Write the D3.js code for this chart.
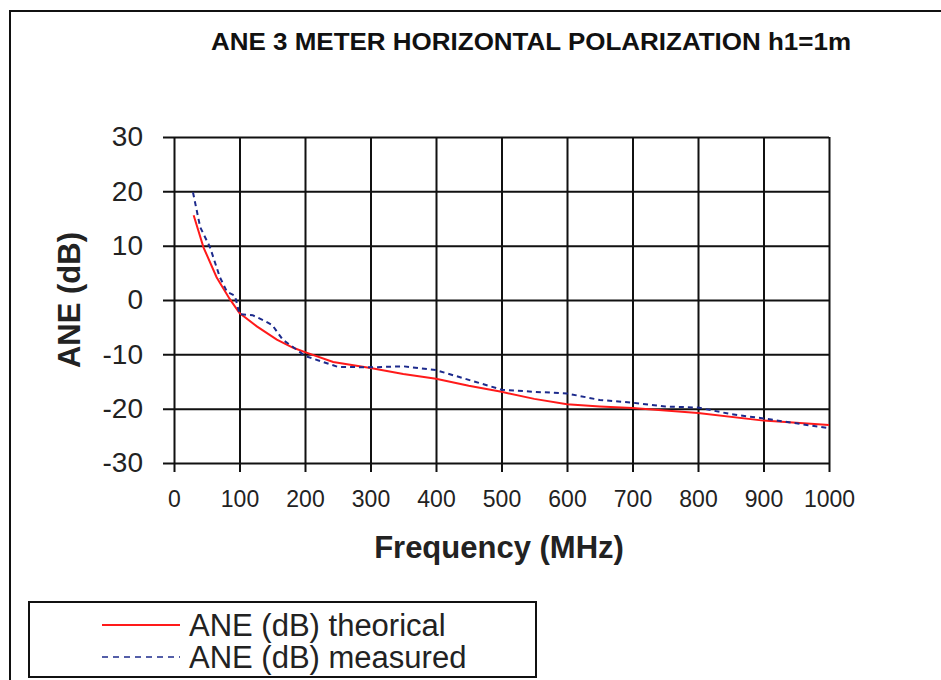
<!DOCTYPE html>
<html>
<head>
<meta charset="utf-8">
<script src="https://cdn.jsdelivr.net/npm/d3@7"></script>
<style>
  body { margin: 0; background: #fff; }
  svg { display: block; }
</style>
</head>
<body>
<div class="chart"></div>
<script>
// Data: frequency (MHz) and ANE (dB)
const theoFreq = [30, 45, 65, 85, 100, 127, 157, 182, 200, 243, 300, 350, 400, 450, 500, 550, 600, 650, 700, 800, 900, 1000];
const theoAne  = [15.6, 9.7, 4.2, 0.2, -2.4, -4.9, -7.3, -8.8, -9.6, -11.4, -12.5, -13.6, -14.5, -15.8, -16.9, -18.2, -19.2, -19.6, -19.9, -20.8, -22.2, -23.0];

const measFreq = [29, 40, 55, 70, 81, 93, 100, 120, 136, 150, 166, 188, 200, 250, 300, 350, 400, 450, 500, 550, 600, 650, 700, 750, 800, 850, 900, 950, 1000];
const measAne  = [19.8, 13.4, 9.7, 4.2, 1.5, 0.8, -2.6, -2.8, -3.7, -4.6, -7.3, -9.2, -10.3, -12.3, -12.4, -12.2, -12.9, -14.7, -16.5, -16.9, -17.2, -18.4, -18.9, -19.6, -19.8, -21.0, -21.8, -22.7, -23.6];

const xTicks = [0, 100, 200, 300, 400, 500, 600, 700, 800, 900, 1000];
const yTicks = [-30, -20, -10, 0, 10, 20, 30];

const series = [
    { name: 'ANE (dB) theorical', freq: theoFreq, ane: theoAne, color: '#ff1a1a', dash: null },
    { name: 'ANE (dB) measured', freq: measFreq, ane: measAne, color: '#1c2a8c', dash: '5,4' }
];

const W = 941, H = 680;
const margin = { top: 137, right: 112, bottom: 217, left: 174 };
const width = W - margin.left - margin.right;
const height = H - margin.top - margin.bottom;

const svg = d3.select('.chart').append('svg')
    .attr('width', W)
    .attr('height', H);

// outer chart frame (runs off the right and bottom edge)
svg.append('path')
    .attr('d', `M10,${H + 5} V11 H${W + 5}`)
    .attr('fill', 'none')
    .attr('stroke', '#111')
    .attr('stroke-width', 2);

svg.append('text')
    .attr('x', 211)
    .attr('y', 50)
    .attr('textLength', 640)
    .attr('lengthAdjust', 'spacingAndGlyphs')
    .style('font-family', '"Liberation Sans", Arial, sans-serif')
    .style('font-weight', 'bold')
    .style('font-size', '24px')
    .attr('fill', '#111')
    .text('ANE 3 METER HORIZONTAL POLARIZATION h1=1m');

const g = svg.append('g')
    .attr('transform', `translate(${margin.left},${margin.top})`);

const x = d3.scaleLinear().domain([0, 1000]).range([0, width]);
const y = d3.scaleLinear().domain([-30, 30]).range([height, 0]);

// horizontal grid + y axis
const yAxis = g.append('g')
    .attr('class', 'y-axis')
    .call(d3.axisLeft(y).tickValues(yTicks).tickFormat(d => String(d))
        .tickSize(-width).tickSizeOuter(0).tickPadding(31));
yAxis.select('.domain').remove();
yAxis.selectAll('line')
    .attr('x1', -11)
    .attr('stroke', '#111')
    .attr('stroke-width', 2);
yAxis.selectAll('text')
    .style('font-family', '"Liberation Sans", Arial, sans-serif')
    .style('font-size', '28px')
    .attr('fill', '#222');

// vertical grid + x axis
const xAxis = g.append('g')
    .attr('class', 'x-axis')
    .attr('transform', `translate(0,${height})`)
    .call(d3.axisBottom(x).tickValues(xTicks).tickFormat(d => String(d))
        .tickSize(-height).tickSizeOuter(0).tickPadding(28));
xAxis.select('.domain').remove();
xAxis.selectAll('line')
    .attr('y1', 9)
    .attr('stroke', '#111')
    .attr('stroke-width', 2);
xAxis.selectAll('text')
    .style('font-family', '"Liberation Sans", Arial, sans-serif')
    .style('font-size', '23px')
    .attr('fill', '#222');

// curves
const line = d3.line()
    .x(d => x(d[0]))
    .y(d => y(d[1]));

series.forEach(s => {
    g.append('path')
        .datum(s.freq.map((f, i) => [f, s.ane[i]]))
        .attr('fill', 'none')
        .attr('stroke', s.color)
        .attr('stroke-width', 2)
        .attr('stroke-dasharray', s.dash)
        .attr('d', line);
});

// axis titles
svg.append('text')
    .attr('x', 499)
    .attr('y', 558)
    .attr('text-anchor', 'middle')
    .style('font-family', '"Liberation Sans", Arial, sans-serif')
    .style('font-weight', 'bold')
    .style('font-size', '31px')
    .attr('fill', '#222')
    .text('Frequency (MHz)');

svg.append('text')
    .attr('transform', 'translate(80,300) rotate(-90)')
    .attr('text-anchor', 'middle')
    .style('font-family', '"Liberation Sans", Arial, sans-serif')
    .style('font-weight', 'bold')
    .style('font-size', '31px')
    .attr('fill', '#222')
    .text('ANE (dB)');

// legend
const legend = svg.append('g');
legend.append('rect')
    .attr('x', 29)
    .attr('y', 602)
    .attr('width', 507)
    .attr('height', 75)
    .attr('fill', '#fff')
    .attr('stroke', '#111')
    .attr('stroke-width', 2);

series.forEach((s, i) => {
    const ly = 625 + i * 32;
    legend.append('line')
        .attr('x1', 102).attr('x2', 180)
        .attr('y1', ly).attr('y2', ly)
        .attr('stroke', s.color)
        .attr('stroke-width', s.dash ? 1.5 : 2)
        .attr('stroke-dasharray', s.dash ? '6,5' : null);
    legend.append('text')
        .attr('x', 189)
        .attr('y', ly + 11)
        .style('font-family', '"Liberation Sans", Arial, sans-serif')
        .style('font-size', '31px')
        .attr('fill', '#222')
        .text(s.name);
});
</script>
</body>
</html>
